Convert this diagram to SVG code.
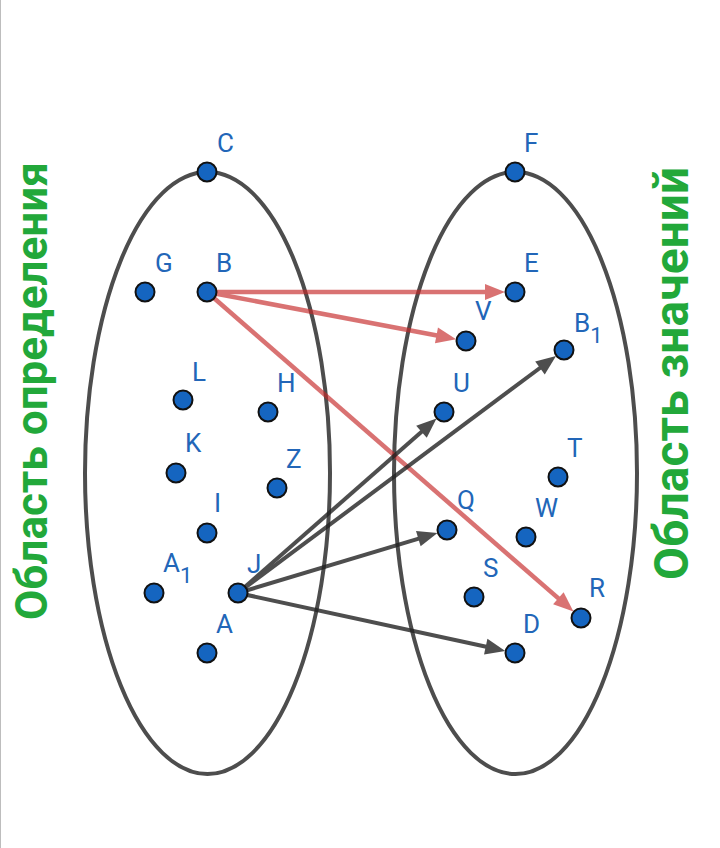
<svg xmlns="http://www.w3.org/2000/svg" width="720" height="848" viewBox="0 0 720 848">
<defs>
<style>
.set{fill:none;stroke:#4d4d4d;stroke-width:4}
.pt{fill:#1565c0;stroke:#111;stroke-width:2}
.lb{font-family:Roboto,"Liberation Sans",sans-serif;font-size:26px;fill:#2266b8}
.title{font-family:Roboto,"Liberation Sans",sans-serif;font-weight:bold;fill:#22a83a}
.red line{stroke:#c62828;stroke-width:4.5}
.dark line{stroke:#222;stroke-width:4}
</style>
<marker id="ahR" markerUnits="userSpaceOnUse" markerWidth="24" markerHeight="20" viewBox="-11 -10 24 20" refX="0" refY="0" orient="auto">
<path d="M10,0 L-10,-8 L-10,8 Z" fill="#c62828"/>
</marker>
<marker id="ahK" markerUnits="userSpaceOnUse" markerWidth="24" markerHeight="20" viewBox="-11 -10 24 20" refX="0" refY="0" orient="auto">
<path d="M10,0 L-10,-8 L-10,8 Z" fill="#222"/>
</marker>
</defs>
<rect width="720" height="848" fill="#fff"/>
<line x1="0.5" y1="0" x2="0.5" y2="848" stroke="#bdbdbd" stroke-width="1"/>

<g id="domain-set"><ellipse class="set" cx="207.5" cy="473" rx="122.5" ry="301"/></g>
<g id="range-set"><ellipse class="set" cx="515.5" cy="473" rx="121.5" ry="301"/></g>

<g id="title-domain"><text class="title" font-size="44" transform="translate(47,620) rotate(-90)">Область определения</text></g>
<g id="title-range"><text class="title" font-size="48" transform="translate(688,580) rotate(-90)">Область значений</text></g>

<g id="connectors">
<g class="red" opacity="0.65">
<line x1="207" y1="292" x2="495" y2="292" marker-end="url(#ahR)"/>
<line x1="207" y1="292" x2="446.3" y2="337.3" marker-end="url(#ahR)"/>
<line x1="207" y1="292" x2="565.9" y2="604.9" marker-end="url(#ahR)"/>
</g>
<g class="dark" opacity="0.8">
<line x1="238" y1="593" x2="429" y2="425.2" marker-end="url(#ahK)"/>
<line x1="238" y1="593" x2="548" y2="362" marker-end="url(#ahK)"/>
<line x1="238" y1="593" x2="427.9" y2="535.8" marker-end="url(#ahK)"/>
<line x1="238" y1="593" x2="495.5" y2="648.8" marker-end="url(#ahK)"/>
</g>
</g>

<g id="node-C"><circle class="pt" cx="207" cy="172" r="9.5"/><text class="lb" x="217" y="152">C</text></g>
<g id="node-G"><circle class="pt" cx="145" cy="292" r="9.5"/><text class="lb" x="155" y="272">G</text></g>
<g id="node-B"><circle class="pt" cx="207" cy="292" r="9.5"/><text class="lb" x="216" y="272">B</text></g>
<g id="node-L"><circle class="pt" cx="183" cy="400" r="9.5"/><text class="lb" x="192" y="381">L</text></g>
<g id="node-H"><circle class="pt" cx="268" cy="412" r="9.5"/><text class="lb" x="277" y="392">H</text></g>
<g id="node-K"><circle class="pt" cx="176" cy="473" r="9.5"/><text class="lb" x="185" y="452">K</text></g>
<g id="node-Z"><circle class="pt" cx="277" cy="488" r="9.5"/><text class="lb" x="286" y="468">Z</text></g>
<g id="node-I"><circle class="pt" cx="207" cy="533" r="9.5"/><text class="lb" x="214" y="512">I</text></g>
<g id="node-A1"><circle class="pt" cx="154" cy="593" r="9.5"/><text class="lb" x="163" y="572">A<tspan dy="11" font-size="22">1</tspan></text></g>
<g id="node-J"><circle class="pt" cx="238" cy="593" r="9.5"/><text class="lb" x="247" y="573">J</text></g>
<g id="node-A"><circle class="pt" cx="207" cy="653" r="9.5"/><text class="lb" x="216" y="633">A</text></g>

<g id="node-F"><circle class="pt" cx="515" cy="172" r="9.5"/><text class="lb" x="524" y="152">F</text></g>
<g id="node-E"><circle class="pt" cx="515" cy="292" r="9.5"/><text class="lb" x="524" y="272">E</text></g>
<g id="node-V"><circle class="pt" cx="466" cy="341" r="9.5"/><text class="lb" x="475" y="320">V</text></g>
<g id="node-B1"><circle class="pt" cx="564" cy="350" r="9.5"/><text class="lb" x="574" y="332">B<tspan dy="11" font-size="22">1</tspan></text></g>
<g id="node-U"><circle class="pt" cx="444" cy="412" r="9.5"/><text class="lb" x="453" y="392">U</text></g>
<g id="node-T"><circle class="pt" cx="558" cy="477" r="9.5"/><text class="lb" x="567" y="457">T</text></g>
<g id="node-Q"><circle class="pt" cx="447" cy="530" r="9.5"/><text class="lb" x="457" y="509">Q</text></g>
<g id="node-W"><circle class="pt" cx="526" cy="537" r="9.5"/><text class="lb" x="535" y="517">W</text></g>
<g id="node-S"><circle class="pt" cx="474" cy="597" r="9.5"/><text class="lb" x="483" y="577">S</text></g>
<g id="node-R"><circle class="pt" cx="581" cy="618" r="9.5"/><text class="lb" x="589" y="597">R</text></g>
<g id="node-D"><circle class="pt" cx="515" cy="653" r="9.5"/><text class="lb" x="523" y="633">D</text></g>
</svg>
